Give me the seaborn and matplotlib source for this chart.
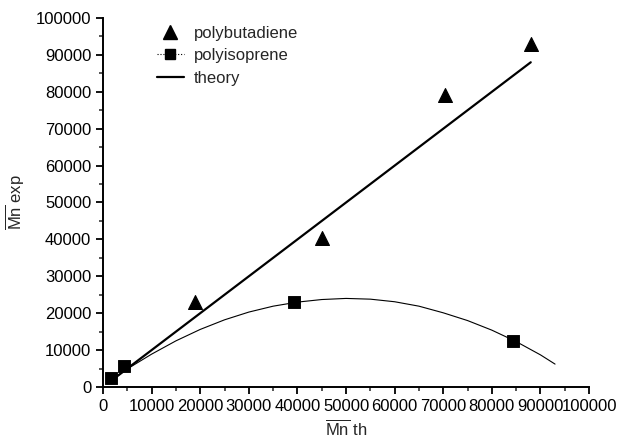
import numpy as np
import pandas as pd
import matplotlib
matplotlib.use("Agg")
import matplotlib.pyplot as plt
from matplotlib.lines import Line2D
from matplotlib.ticker import MultipleLocator
import seaborn as sns

# Datos
pb_x = [19000, 45000, 70300, 88000]
pb_y = [23000, 40300, 79100, 93000]

pi_x = [1600, 4400, 39200, 84400]
pi_y = [2400, 5800, 23100, 12500]

theory_x = [1000, 88000]
theory_y = [1000, 88000]

# curva de ajuste (leida punto a punto)
fit_x = [1000, 5000, 10000, 15000, 20000, 25000, 30000, 35000, 40000, 45000,
         50000, 55000, 60000, 65000, 70000, 75000, 80000, 85000, 90000, 93000]
fit_y = [1200, 4900, 8900, 12500, 15600, 18200, 20300, 21900, 23000, 23700,
         24000, 23800, 23100, 21900, 20100, 18000, 15400, 12300, 8700, 6200]

sns.set_style("ticks")
plt.rcParams['font.family'] = ['Liberation Sans', 'DejaVu Sans']
plt.rcParams['mathtext.fontset'] = 'custom'
plt.rcParams['mathtext.rm'] = 'Liberation Sans'

fig = plt.figure(figsize=(6.18, 4.4), dpi=100)
ax = fig.add_axes([0.1667, 0.1205, 0.7865, 0.8386])

sns.lineplot(x=theory_x, y=theory_y, ax=ax, color='black', lw=1.6)
sns.lineplot(x=fit_x, y=fit_y, ax=ax, color='black', lw=0.8)
sns.scatterplot(x=pb_x, y=pb_y, ax=ax, marker='^', s=100, color='black', edgecolor='black')
sns.scatterplot(x=pi_x, y=pi_y, ax=ax, marker='s', s=65, color='black', edgecolor='black')

ax.set_xlim(0, 100000)
ax.set_ylim(0, 100000)
ax.xaxis.set_major_locator(MultipleLocator(10000))
ax.xaxis.set_minor_locator(MultipleLocator(5000))
ax.yaxis.set_major_locator(MultipleLocator(10000))
ax.yaxis.set_minor_locator(MultipleLocator(5000))
ax.tick_params(which='major', direction='out', length=5, width=1.3, labelsize=12, colors='black')
ax.tick_params(which='minor', direction='out', length=3, width=1.1)
for s in ['left', 'bottom']:
    ax.spines[s].set_linewidth(1.4)
    ax.spines[s].set_color('black')
sns.despine(ax=ax)

ax.set_xlabel(r'$\overline{\mathrm{Mn}}$ th', fontsize=12, labelpad=4)
ax.set_ylabel(r'$\overline{\mathrm{Mn}}$ exp', fontsize=12, labelpad=6)

handles = [
    Line2D([], [], marker='^', color='black', ls='none', markersize=10),
    Line2D([], [], marker='s', color='black', ls=':', lw=0.8, markersize=7),
    Line2D([], [], color='black', lw=1.6),
]
ax.legend(handles, ['polybutadiene', 'polyisoprene', 'theory'], loc='upper left',
          bbox_to_anchor=(0.08, 1.02), frameon=False, fontsize=12,
          handlelength=1.6, labelspacing=0.45, handletextpad=0.6)

fig.savefig('out.png', dpi=100)
